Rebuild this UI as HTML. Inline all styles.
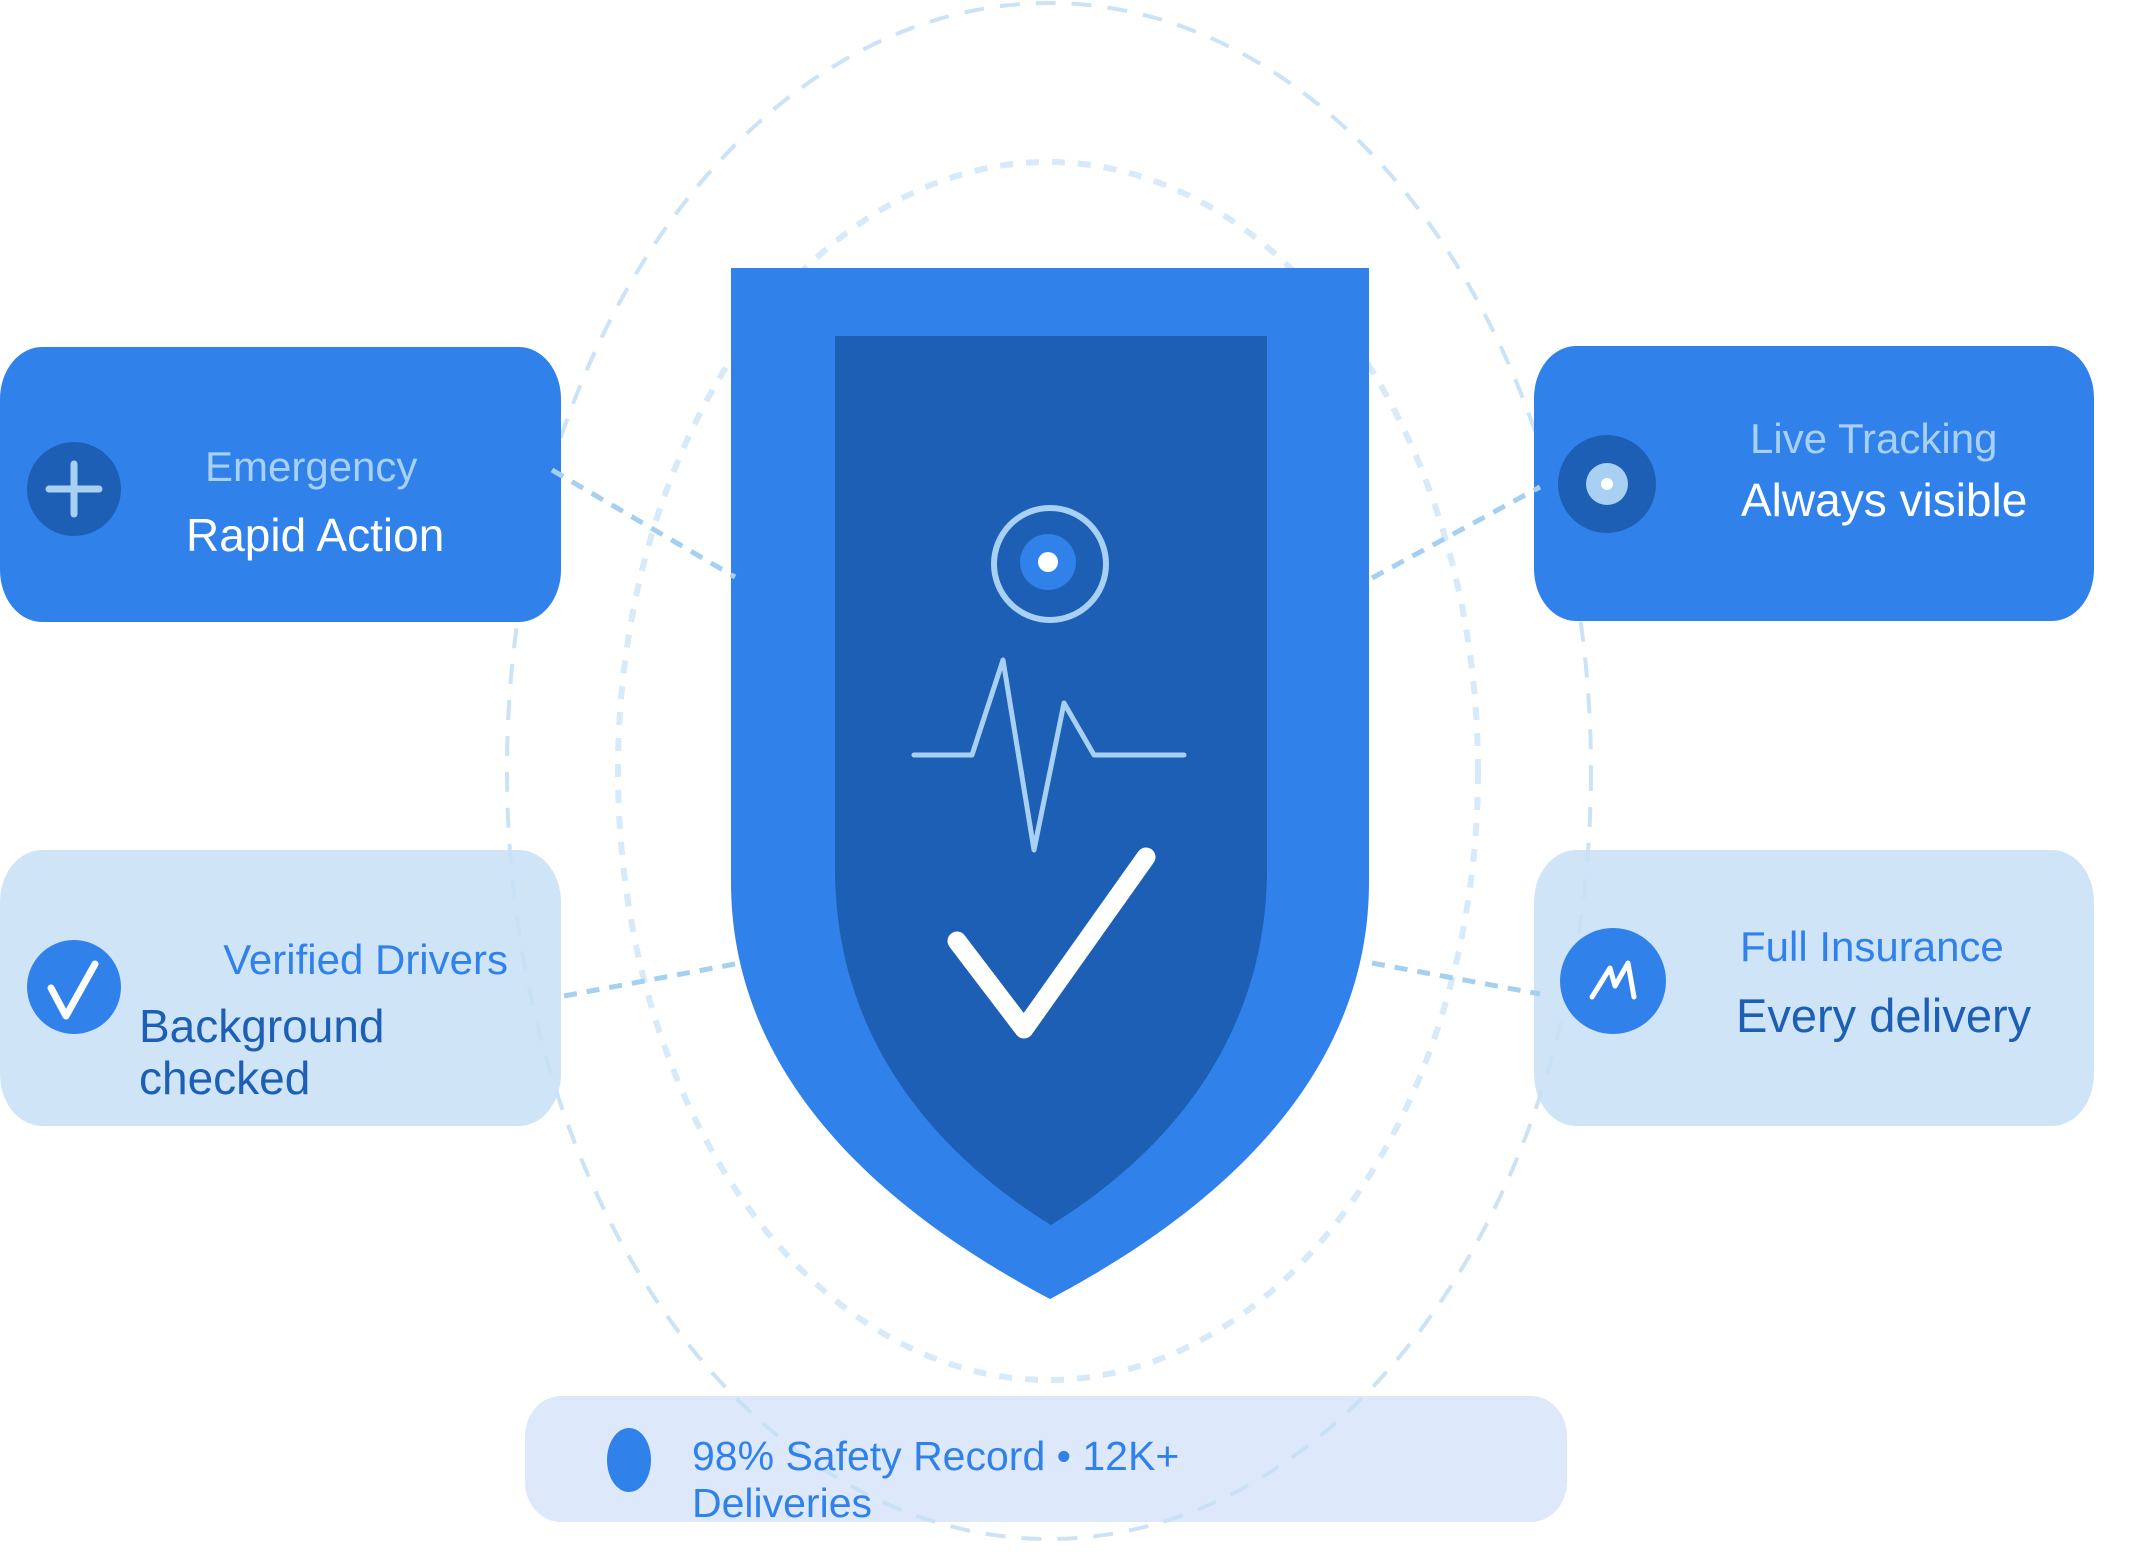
<!DOCTYPE html>
<html><head><meta charset="utf-8"><style>
html,body{margin:0;padding:0;background:#fff;}
svg{display:block;}
text{font-family:"Liberation Sans",sans-serif;}
</style></head><body>
<svg width="2156" height="1555" viewBox="0 0 2156 1555" xmlns="http://www.w3.org/2000/svg">
<rect x="0" y="850" width="561" height="276" rx="42" ry="52" fill="#cfe5f7"/>
<rect x="1534" y="850" width="560" height="276" rx="42" ry="52" fill="#cfe5f7"/>
<rect x="525" y="1396" width="1042" height="126" rx="36" ry="40" fill="#dde9fb"/>
<ellipse cx="1049" cy="771" rx="542" ry="768" fill="none" stroke="#c7e0f5" stroke-width="4" stroke-dasharray="20 16" opacity="0.9"/>
<ellipse cx="1048" cy="771" rx="430" ry="609" fill="none" stroke="#d6eaf9" stroke-width="6" stroke-dasharray="13 13"/>
<path d="M731 268 H1369 V882 C1369 1100 1180 1230 1050 1299 C920 1230 731 1100 731 882 Z" fill="#3181ea"/>
<path d="M835 336 H1267 V868 C1267 1060 1140 1170 1051 1225 C962 1170 835 1060 835 868 Z" fill="#1d5fb5"/>
<circle cx="1050" cy="564" r="56" fill="none" stroke="#a8d0f2" stroke-width="6"/>
<circle cx="1048" cy="562" r="28" fill="#3181ea"/>
<circle cx="1048" cy="562" r="10" fill="#fff"/>
<polyline points="914,755 972,755 1003,660 1034,850 1064,703 1094,755 1184,755" fill="none" stroke="#a8d0f2" stroke-width="5" stroke-linejoin="round" stroke-linecap="round"/>
<polyline points="957,941 1024,1029 1146,857" fill="none" stroke="#fff" stroke-width="19" stroke-linejoin="round" stroke-linecap="round"/>
<rect x="0" y="347" width="561" height="275" rx="42" ry="52" fill="#3181ea"/>
<rect x="1534" y="346" width="560" height="275" rx="42" ry="52" fill="#3181ea"/>
<g stroke="#a5d0f0" stroke-width="5" stroke-dasharray="13 10" fill="none">
<line x1="552" y1="470" x2="735" y2="577"/>
<line x1="564" y1="996" x2="735" y2="964"/>
<line x1="1372" y1="578" x2="1540" y2="487"/>
<line x1="1372" y1="963" x2="1540" y2="994"/>
</g>
<circle cx="74" cy="489" r="47" fill="#1d5fb5"/>
<path d="M49 489 H99 M74 464 V514" stroke="#a8d0f2" stroke-width="7" stroke-linecap="round"/>
<circle cx="74" cy="987" r="47" fill="#3181ea"/>
<polyline points="51,988 66,1016 95,964" fill="none" stroke="#fff" stroke-width="7" stroke-linecap="round" stroke-linejoin="round"/>
<circle cx="1607" cy="484" r="49" fill="#1d5fb5"/>
<circle cx="1607" cy="484" r="21" fill="#a8d0f2"/>
<circle cx="1607" cy="484" r="6" fill="#fff"/>
<circle cx="1613" cy="981" r="53" fill="#3181ea"/>
<polyline points="1592,997 1610,968 1615,986 1628,963 1634,997" fill="none" stroke="#fff" stroke-width="5" stroke-linecap="round" stroke-linejoin="round"/>
<ellipse cx="629" cy="1460" rx="22" ry="32" fill="#3181ea"/>
<text x="205" y="481" font-size="42" fill="#a8d0f2">Emergency</text>
<text x="186" y="551" font-size="46" fill="#fff">Rapid Action</text>
<text x="508" y="974" font-size="42" fill="#3181ea" text-anchor="end">Verified Drivers</text>
<text x="139" y="1042" font-size="46" fill="#1d5fb5">Background</text>
<text x="139" y="1094" font-size="46" fill="#1d5fb5">checked</text>
<text x="1750" y="453" font-size="42" fill="#a8d0f2">Live Tracking</text>
<text x="1741" y="516" font-size="46" fill="#fff">Always visible</text>
<text x="1740" y="961" font-size="42" fill="#3181ea">Full Insurance</text>
<text x="1736" y="1032" font-size="47" fill="#1d5fb5">Every delivery</text>
<text x="692" y="1470" font-size="41" fill="#3181ea">98% Safety Record • 12K+</text>
<text x="692" y="1517" font-size="41" fill="#3181ea">Deliveries</text>
</svg>
</body></html>
